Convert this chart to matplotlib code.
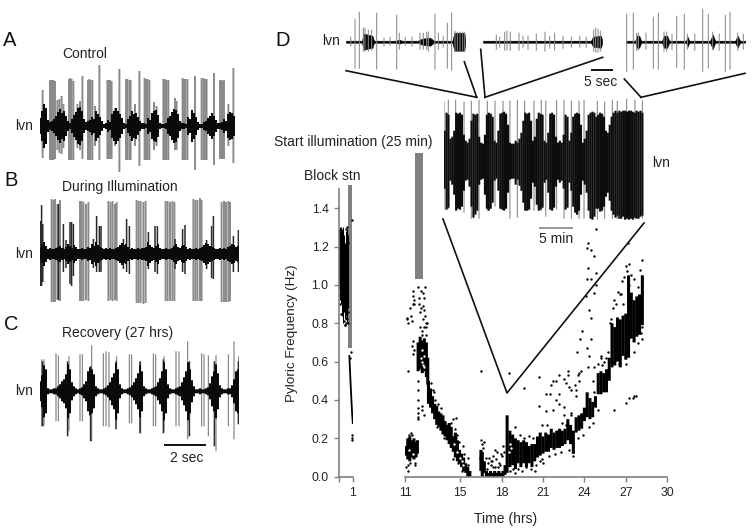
import matplotlib
matplotlib.use("Agg")
import matplotlib.pyplot as plt

plt.rcParams['font.family'] = ['Liberation Sans', 'DejaVu Sans']

W, H = 752, 532
GRAY = '#8a8a8a'
TXT = '#222222'

# panel A-C, time in sec, amplitude in arbitrary units
env_time = [0.0, 0.1, 0.2, 0.3, 0.4, 0.5, 0.6, 0.7, 0.8, 0.9, 1.0, 1.1, 1.2, 1.3, 1.4, 1.5, 1.6, 1.7, 1.8, 1.9,
            2.0, 2.1, 2.2, 2.3, 2.4, 2.5, 2.6, 2.7, 2.8, 2.9, 3.0, 3.1, 3.2, 3.3, 3.4, 3.5, 3.6, 3.7, 3.8, 3.9,
            4.0, 4.1, 4.2, 4.3, 4.4, 4.5, 4.6, 4.7, 4.8, 4.9, 5.0, 5.1, 5.2, 5.3, 5.4, 5.5, 5.6, 5.7, 5.8, 5.9,
            6.0, 6.1, 6.2, 6.3, 6.4, 6.5, 6.6, 6.7, 6.8, 6.9, 7.0, 7.1, 7.2, 7.3, 7.4, 7.5, 7.6, 7.7, 7.8, 7.9,
            8.0, 8.1, 8.2, 8.3, 8.4, 8.5, 8.6, 8.7, 8.8, 8.9, 9.0, 9.1, 9.2, 9.3, 9.4, 9.5, 9.6, 9.7, 9.8, 9.9]

a_env = [8, 15, 22, 18, 6, 4, 5, 7, 10, 14, 17, 13, 15, 10, 5, 3, 7, 11, 14, 18, 19, 15, 7, 4, 5, 6, 9, 7, 15, 12,
         9, 5, 2, 3, 6, 4, 12, 15, 18, 15, 12, 8, 3, 2, 7, 10, 15, 12, 13, 9, 5, 3, 3, 2, 8, 6, 13, 15, 16, 11,
         3, 2, 2, 3, 8, 10, 14, 17, 16, 12, 5, 3, 3, 2, 9, 7, 16, 13, 9, 4, 2, 2, 4, 5, 8, 10, 13, 10, 6, 3,
         3, 4, 7, 5, 12, 14, 13, 10]
a_t = [0.13, 0.5, 0.55, 0.6, 0.67, 0.75, 0.87, 0.97, 1.08, 1.17, 1.45, 1.52, 1.58, 1.67, 1.87, 2.0, 2.12,
       2.4, 2.47, 2.53, 2.62, 2.75, 2.97, 3.37, 3.43, 3.5, 3.58, 3.75, 3.97, 4.3, 4.37, 4.47, 4.53, 4.75,
       4.97, 5.23, 5.3, 5.38, 5.47, 5.7, 5.83, 6.17, 6.25, 6.33, 6.42, 6.75, 6.83, 7.13, 7.2, 7.27, 7.37,
       7.75, 8.08, 8.17, 8.25, 8.33, 8.7, 9.0, 9.07, 9.13, 9.2, 9.42, 9.67]
a_up = [36, 46, 46, 46, 46, 45, 26, 27, 30, 22, 47, 48, 47, 45, 22, 25, 50, 46, 47, 46, 46, 20, 61, 46, 46,
        46, 45, 18, 57, 47, 47, 46, 46, 22, 55, 48, 47, 47, 46, 24, 20, 47, 47, 46, 46, 28, 25, 48, 47, 47,
        47, 50, 48, 48, 47, 47, 53, 46, 46, 45, 46, 22, 58]
a_dn = [32, 34, 34, 34, 34, 33, 24, 27, 28, 22, 34, 34, 34, 34, 22, 24, 33, 34, 34, 34, 34, 20, 34, 33, 33,
        33, 33, 20, 46, 34, 34, 34, 34, 20, 40, 34, 34, 34, 34, 24, 20, 34, 34, 34, 34, 24, 24, 34, 34, 34,
        34, 44, 34, 34, 34, 34, 39, 33, 33, 33, 33, 20, 37]

b_env = [6, 9, 12, 8, 5, 6, 5, 5, 6, 7, 8, 6, 5, 7, 10, 8, 6, 9, 7, 5, 5, 6, 5, 5, 7, 6, 10, 8, 12, 9,
         7, 6, 5, 6, 5, 6, 5, 5, 6, 7, 9, 11, 9, 10, 7, 5, 6, 5, 5, 6, 5, 6, 6, 7, 12, 9, 7, 6, 8, 10,
         6, 5, 5, 6, 5, 5, 6, 8, 10, 7, 6, 8, 9, 7, 5, 6, 5, 5, 6, 5, 6, 7, 9, 11, 10, 8, 7, 6, 5, 5,
         6, 5, 6, 5, 7, 8, 10, 9, 7, 8]
b_t = [0.58, 0.67, 0.75, 0.87, 1.0, 2.0, 2.08, 2.17, 2.3, 2.42, 3.42, 3.53, 3.63, 3.75, 3.83, 4.83, 4.93,
       5.03, 5.17, 5.28, 6.28, 6.38, 6.5, 6.62, 6.72, 7.67, 7.77, 7.87, 8.0, 8.08, 9.08, 9.2, 9.3, 9.42, 9.5]
b_up = [55, 54, 55, 50, 54, 53, 53, 52, 50, 52, 53, 52, 53, 50, 52, 54, 53, 53, 52, 53, 53, 53, 52, 53, 52,
        55, 54, 54, 56, 54, 52, 53, 52, 53, 52]
b_dn = [48, 48, 48, 46, 47, 47, 47, 47, 46, 47, 47, 46, 47, 46, 47, 49, 49, 49, 50, 49, 47, 47, 47, 47, 47,
        47, 47, 47, 47, 47, 48, 48, 48, 48, 47]
b_dark_t = [0.02, 0.08, 0.14, 0.92, 1.17, 1.3, 1.5, 1.58, 1.67, 2.67, 2.83, 2.97, 3.05, 4.17, 4.33, 4.47,
            5.42, 5.75, 5.87, 6.75, 7.13, 7.25, 8.33, 8.58, 8.67, 9.67, 9.92]
b_dark_up = [33, 49, 30, 50, 30, 14, 32, 32, 30, 15, 38, 28, 28, 15, 35, 28, 22, 28, 28, 15, 25, 29, 14, 28,
             38, 18, 24]
b_dark_dn = [32, 32, 28, 46, 18, 14, 30, 32, 22, 14, 18, 18, 18, 15, 18, 20, 15, 18, 20, 15, 18, 20, 15, 24,
             25, 18, 18]

c_env = [10, 16, 26, 22, 3, 2, 2, 3, 3, 5, 7, 10, 12, 17, 27, 22, 9, 5, 3, 2, 3, 4, 7, 10, 20, 24, 22, 17, 5, 3,
         2, 2, 3, 4, 6, 9, 14, 18, 28, 22, 7, 3, 2, 2, 3, 4, 6, 9, 13, 18, 26, 20, 5, 3, 2, 2, 3, 4, 5, 9,
         13, 20, 29, 22, 7, 3, 2, 2, 3, 4, 5, 9, 14, 20, 29, 22, 11, 5, 2, 2, 3, 2, 2, 3, 4, 8, 15, 20, 27, 18,
         6, 3, 2, 2, 3, 3, 6, 12, 20, 22]
c_t = [0.08, 0.2, 0.8, 0.92, 1.45, 2.0, 2.12, 2.58, 3.17, 3.3, 3.45, 3.83, 4.47, 4.58, 5.03, 5.67, 5.78, 6.2,
       6.8, 6.95, 7.38, 8.08, 8.2, 8.42, 8.8, 9.42, 9.7, 9.93]
c_up = [32, 32, 38, 36, 35, 37, 37, 46, 38, 40, 39, 35, 37, 37, 30, 38, 37, 35, 40, 40, 50, 38, 37, 36, 36, 37,
        50, 35]
c_dn = [35, 35, 30, 30, 40, 30, 30, 50, 35, 35, 36, 30, 32, 32, 42, 35, 35, 40, 35, 35, 48, 35, 35, 45, 60, 35,
        48, 30]
c_dark_t = [0.13, 1.38, 2.53, 3.8, 5.0, 6.17, 7.47, 8.72, 9.92]
c_dark_up = [30, 30, 25, 30, 30, 32, 30, 30, 30]
c_dark_dn = [35, 45, 50, 38, 42, 42, 45, 55, 33]

# panel D short traces, time in sec
d1_t = [1.2, 2.25, 3.33, 4.33, 4.75, 5.58, 6.42, 7.67, 9.5, 11.0, 12.67, 13.33, 14.8, 16.5, 18.5, 19.33, 20.17,
        20.58, 22.25, 23.1, 24.3, 25.33, 26.4, 27.25, 27.83, 28.5, 29.17, 29.67]
d1_up = [5, 23, 30, 14, 14, 12, 12, 29, 4, 5, 27, 9, 5, 5, 9, 9, 10, 10, 28, 9, 6, 19, 29, 11, 10, 10, 10, 10]
d1_dn = [5, 27, 27, 10, 10, 10, 9, 28, 5, 4, 28, 8, 4, 5, 8, 8, 8, 10, 28, 8, 6, 27, 29, 10, 10, 10, 10, 10]
d1_env_t = [0, 4, 4.4, 5.5, 6.6, 7, 12.5, 13.3, 14, 18, 19, 21, 22, 26.6, 27.1, 29.6, 29.8]
d1_env = [1, 1, 8, 7, 6, 1, 1, 2, 1, 1, 3, 4, 1, 1, 9, 9, 1]

d2_t = [3.33, 4.17, 5.42, 6.0, 6.83, 9.0, 10.0, 11.25, 13.33, 15.5, 16.67, 17.9, 20.0, 22.1, 24.2, 25.8, 27.67,
        28.17, 28.75, 29.33]
d2_up = [7, 5, 10, 11, 10, 9, 6, 6, 8, 10, 6, 9, 6, 5, 6, 5, 12, 14, 13, 11]
d2_dn = [8, 6, 9, 9, 9, 9, 6, 8, 9, 10, 7, 9, 7, 6, 6, 6, 10, 11, 11, 10]
d2_env_t = [0, 27.0, 27.5, 29.5, 29.8]
d2_env = [1, 1, 5, 6, 1]

d3_t = [0.17, 1.83, 2.67, 3.1, 5.0, 6.83, 8.08, 9.5, 10.17, 11.5, 12.67, 14.58, 15.33, 17.2, 19.17, 20.58, 21.67,
        23.3, 24.83, 26.0, 27.92, 29.33]
d3_up = [28, 29, 9, 9, 9, 25, 29, 10, 10, 8, 26, 28, 8, 8, 33, 28, 10, 8, 27, 30, 9, 8]
d3_dn = [30, 28, 9, 9, 8, 27, 28, 10, 10, 8, 26, 28, 8, 9, 30, 27, 9, 9, 30, 28, 9, 8]
d3_env_t = [0, 2.3, 2.7, 3.3, 3.8, 9.0, 9.5, 10.3, 10.8, 15.0, 15.4, 15.8, 21, 21.7, 22.3, 27.3, 27.9, 28.5, 29.8]
d3_env = [1, 1, 6, 6, 1, 1, 6, 6, 1, 1, 5, 1, 1, 7, 1, 1, 6, 1, 1]

# panel D long trace, time in min, 2 px columns
big_t = [0.1, 0.4, 0.7, 1.0, 1.3, 1.6, 1.9, 2.2, 2.5, 2.8, 3.1, 3.4, 3.7, 4.0, 4.3, 4.6, 4.9, 5.2, 5.5, 5.8,
         6.1, 6.4, 6.7, 7.0, 7.3, 7.6, 7.9, 8.2, 8.5, 8.8, 9.1, 9.4, 9.7, 10.0, 10.3, 10.6, 10.9, 11.2, 11.5, 11.8,
         12.1, 12.4, 12.7, 13.0, 13.3, 13.6, 13.9, 14.2, 14.5, 14.8, 15.1, 15.4, 15.7, 16.0, 16.3, 16.6, 16.9,
         17.2, 17.5, 17.8, 18.1, 18.4, 18.7, 19.0, 19.3, 19.6, 19.9, 20.2, 20.5, 20.8, 21.1, 21.4, 21.7, 22.0,
         22.3, 22.6, 22.9, 23.2, 23.5, 23.8, 24.1, 24.4, 24.7, 25.0, 25.3, 25.6, 25.9, 26.2, 26.5, 26.8, 27.1,
         27.4, 27.7, 28.0, 28.3, 28.6, 28.9, 29.2, 29.5, 29.8, 30.1, 30.4, 30.7, 31.0]
big_up = [30, 48, 46, 22, 24, 30, 48, 47, 48, 46, 26, 20, 18, 22, 40, 47, 46, 47, 24, 18, 17, 26, 46, 48, 47, 44,
          20, 18, 30, 47, 48, 49, 47, 36, 18, 17, 17, 20, 18, 22, 28, 40, 48, 47, 48, 40, 20, 24, 42, 48, 47, 46,
          20, 18, 28, 47, 48, 46, 24, 18, 20, 18, 26, 46, 44, 20, 28, 44, 47, 48, 47, 36, 18, 22, 30, 46, 48, 49,
          48, 44, 46, 48, 47, 44, 30, 28, 36, 44, 48, 50, 48, 50, 49, 50, 50, 49, 50, 50, 49, 48, 50, 49, 50, 48]
big_dn = [28, 49, 47, 20, 24, 34, 50, 48, 49, 46, 30, 20, 19, 26, 46, 57, 54, 50, 24, 19, 18, 34, 48, 50, 48, 42,
          20, 18, 30, 48, 49, 50, 48, 32, 19, 18, 18, 24, 19, 25, 30, 42, 50, 50, 49, 38, 22, 26, 44, 50, 49, 47,
          22, 19, 32, 49, 50, 47, 26, 19, 22, 20, 28, 49, 47, 22, 30, 46, 52, 54, 50, 34, 20, 24, 32, 50, 58, 59,
          56, 48, 48, 51, 50, 46, 36, 32, 40, 50, 54, 57, 55, 58, 58, 56, 59, 58, 59, 58, 59, 57, 58, 58, 56, 55]
big_sp_t = [0.0, 0.68, 1.82, 3.13, 4.27, 5.47, 6.77, 7.97, 9.22, 10.3, 11.46, 12.6, 14.06, 15.2, 15.9, 17.6,
            18.75, 19.9, 21.1, 21.88, 23.96, 25.1, 26.3, 27.08, 28.54, 29.84, 31.0]
big_sp_up = [59, 61, 61, 59, 60, 61, 60, 60, 60, 60, 61, 60, 60, 61, 60, 61, 61, 60, 60, 61, 60, 59, 61, 60, 62,
             61, 60]
big_sp_dn = [49, 48, 49, 52, 58, 58, 50, 46, 48, 58, 57, 48, 50, 50, 56, 49, 58, 58, 58, 58, 59, 58, 58, 58, 58,
             58, 58]

# pyloric frequency, x in hrs, y in Hz
block_t = [0.02, 0.08, 0.14, 0.2, 0.26, 0.32, 0.38, 0.44, 0.5, 0.56, 0.62]
block_lo = [0.98, 0.92, 0.9, 0.84, 0.85, 0.8, 0.86, 0.82, 0.84, 0.8, 0.88]
block_hi = [1.29, 1.3, 1.3, 1.29, 1.3, 1.28, 1.26, 1.22, 1.28, 1.29, 1.26]
block_pts_t = [0.05, 0.08, 0.12, 0.5, 0.55, 0.6, 0.62, 0.45, 0.52, 0.65, 0.62, 0.85, 0.8, 0.93, 0.95, 0.96, 0.94,
               0.35, 0.42, 0.5, 0.6]
block_pts_v = [0.95, 0.9, 0.85, 1.29, 1.3, 1.26, 1.22, 0.79, 0.83, 0.86, 0.8, 0.65, 0.62, 1.34, 0.22, 0.2, 0.19,
               0.81, 0.79, 0.8, 0.82]
decay_t = [0.75, 0.8, 0.85, 0.9, 0.95, 1.0]
decay_v = [0.63, 0.55, 0.47, 0.4, 0.33, 0.28]

col_t = [11.05, 11.2, 11.35, 11.5, 11.65, 11.8, 11.9,
         11.95, 12.1, 12.25, 12.4, 12.55, 12.65,
         12.7, 12.85, 13.0, 13.15, 13.3, 13.45, 13.6, 13.75, 13.9, 14.05, 14.2, 14.35, 14.5, 14.65, 14.8, 14.95,
         15.1, 15.25, 15.4, 15.55, 15.7,
         16.5, 16.6, 16.75, 16.9, 17.05, 17.2, 17.35, 17.5, 17.65, 17.8, 17.95, 18.1, 18.25,
         18.4, 18.6, 18.8, 19.0, 19.2, 19.4, 19.6, 19.8, 20.0, 20.2, 20.4, 20.6, 20.8, 21.0, 21.2, 21.4, 21.6, 21.8,
         22.0, 22.2, 22.4, 22.6, 22.8, 23.0, 23.2, 23.4, 23.6, 23.8, 24.0, 24.2, 24.4, 24.6, 24.8, 25.0, 25.2, 25.4,
         25.6, 25.8, 26.0, 26.2, 26.4, 26.6, 26.8, 27.0, 27.2, 27.4, 27.6, 27.8, 28.0, 28.2]
col_lo = [0.11, 0.09, 0.08, 0.10, 0.09, 0.10, 0.12,
          0.55, 0.56, 0.54, 0.55, 0.52, 0.48,
          0.38, 0.36, 0.33, 0.30, 0.27, 0.26, 0.24, 0.22, 0.21, 0.19, 0.17, 0.15, 0.13, 0.10, 0.08, 0.07,
          0.05, 0.03, 0.02, 0.0, 0.0,
          0.03, 0.0, 0.02, 0.0, 0.0, 0.0, 0.0, 0.0, 0.0, 0.0, 0.0, 0.0, 0.01,
          0.02, 0.05, 0.06, 0.04, 0.07, 0.05, 0.07, 0.05, 0.07, 0.05, 0.08, 0.10, 0.11, 0.12, 0.13, 0.13, 0.15, 0.14,
          0.15, 0.15, 0.16, 0.17, 0.19, 0.17, 0.12, 0.23, 0.24, 0.25, 0.29, 0.31, 0.30, 0.31, 0.36, 0.43, 0.43, 0.44,
          0.44, 0.50, 0.57, 0.58, 0.60, 0.57, 0.63, 0.61, 0.62, 0.72, 0.70, 0.73, 0.74, 0.79]
col_hi = [0.16, 0.20, 0.21, 0.19, 0.20, 0.18, 0.19,
          0.70, 0.73, 0.71, 0.72, 0.70, 0.62,
          0.50, 0.46, 0.42, 0.38, 0.37, 0.34, 0.33, 0.32, 0.29, 0.27, 0.28, 0.26, 0.21, 0.23, 0.19, 0.14,
          0.12, 0.10, 0.07, 0.05, 0.03,
          0.14, 0.13, 0.08, 0.03, 0.02, 0.03, 0.02, 0.03, 0.02, 0.03, 0.02, 0.03, 0.06,
          0.32, 0.24, 0.22, 0.20, 0.19, 0.18, 0.19, 0.18, 0.16, 0.17, 0.17, 0.21, 0.23, 0.21, 0.23, 0.22, 0.25, 0.23,
          0.24, 0.25, 0.24, 0.25, 0.30, 0.27, 0.24, 0.31, 0.32, 0.33, 0.36, 0.44, 0.41, 0.39, 0.42, 0.54, 0.55, 0.54,
          0.56, 0.62, 0.80, 0.78, 0.83, 0.82, 0.84, 0.85, 1.05, 0.96, 0.92, 0.94, 0.95, 1.05]

pts_t = [11.1, 11.2, 11.25, 11.35, 11.3, 11.45, 11.5, 11.7, 11.75, 11.12, 11.2, 11.35, 11.4, 11.48, 11.6, 11.15,
         11.55, 11.6, 11.62, 11.65, 11.6, 11.65, 11.55, 11.5, 11.2, 11.95, 12.0, 12.05, 12.1, 12.15, 12.3, 12.35, 12.4,
         12.45, 12.5, 12.1, 12.2, 12.3, 12.25, 12.4, 12.5, 12.6, 12.15, 12.3, 12.45, 12.4, 12.55, 11.92, 11.93, 11.94,
         11.95, 11.93, 11.95, 11.97, 12.2, 12.25, 12.35, 12.85, 13.0, 13.2, 13.4, 13.6, 14.7, 14.65, 14.7, 14.75, 14.45,
         14.3, 14.1, 13.1, 13.35, 13.8, 14.9, 15.2, 15.3, 15.55, 15.6, 15.4, 14.5, 14.85, 15.1,
         16.5, 16.55, 16.65, 16.7, 16.85, 17.0, 17.1, 17.2, 17.3, 17.4, 17.5, 17.6, 17.7, 17.8, 17.95, 18.05, 18.15, 17.25,
         17.5, 16.95, 17.35, 17.75, 17.9, 18.1, 16.6, 16.45,
         24.83, 24.28, 24.18, 24.5, 24.66, 27.17, 24.28, 24.83, 24.5, 24.83, 24.22, 24.15, 24.7, 24.35, 24.47, 23.84,
         23.67, 24.47, 23.45, 24.18, 24.35, 23.74, 23.6, 16.5, 18.5, 19.6, 20.68, 20.68, 21.2, 21.52, 21.7, 21.57,
         22.17, 21.93, 22.78, 22.82, 22.54, 22.66, 22.9, 22.17, 21.93, 22.17, 22.49, 21.7, 21.2, 22.54, 23.38, 23.38,
         23.62, 23.5, 23.05, 23.3, 24.23, 24.7, 24.95, 25.2, 25.55, 24.6, 26.16, 27.0, 27.25, 27.5, 27.62, 27.73,
         27.0, 27.25, 28.14, 28.0, 26.76, 26.4, 26.04, 25.92, 27.6, 27.85, 26.64, 26.16, 27.4, 27.9, 27.6, 28.1, 27.0,
         26.5, 26.1, 25.7, 26.9, 27.2, 27.1, 26.8, 28.15, 28.2, 26.3, 26.6, 25.85, 25.4, 25.2, 25.3,
         18.6, 18.8, 19.0, 19.2, 19.5, 19.8, 20.1, 20.4, 20.5, 19.0, 19.3, 19.6, 20.0, 20.3, 20.9, 21.0, 21.4, 21.9,
         22.3, 22.4, 22.7, 23.0, 23.15, 23.2, 23.5, 23.9, 24.3, 24.6, 24.7, 25.0, 20.75, 20.9, 21.3, 23.0, 22.9, 24.0]
pts_v = [0.05, 0.03, 0.06, 0.07, 0.22, 0.23, 0.22, 0.07, 0.06, 0.83, 0.8, 0.88, 0.84, 0.81, 0.9, 0.82,
         0.97, 0.94, 0.92, 0.9, 0.71, 0.66, 0.64, 0.68, 0.55, 0.99, 0.93, 0.9, 0.86, 0.97, 0.96, 0.93, 0.87,
         0.84, 0.8, 0.78, 0.76, 0.82, 0.74, 0.78, 0.74, 0.8, 0.88, 0.89, 0.99, 0.72, 0.78, 0.5, 0.45, 0.4,
         0.36, 0.33, 0.3, 0.31, 0.37, 0.35, 0.32, 0.49, 0.45, 0.4, 0.38, 0.36, 0.305, 0.25, 0.2, 0.22, 0.3,
         0.28, 0.27, 0.44, 0.26, 0.2, 0.18, 0.16, 0.12, 0.1, 0.06, 0.05, 0.09, 0.07, 0.03,
         0.19, 0.17, 0.15, 0.18, 0.1, 0.07, 0.1, 0.06, 0.08, 0.11, 0.14, 0.09, 0.13, 0.07, 0.12, 0.11, 0.13, 0.08,
         0.05, 0.04, 0.05, 0.05, 0.06, 0.16, 0.08, 0.1,
         1.29, 1.22, 1.19, 1.18, 1.15, 1.22, 1.09, 1.06, 1.03, 1.0, 1.03, 0.94, 0.96, 0.87, 0.83, 0.76,
         0.72, 0.72, 0.65, 0.67, 0.63, 0.55, 0.54, 0.55, 0.54, 0.46, 0.52, 0.37, 0.43, 0.43, 0.5, 0.48,
         0.53, 0.5, 0.55, 0.53, 0.51, 0.49, 0.47, 0.43, 0.4, 0.38, 0.365, 0.35, 0.34, 0.32, 0.42, 0.45,
         0.5, 0.53, 0.45, 0.48, 0.57, 0.57, 0.59, 0.63, 0.62, 0.5, 0.35, 0.385, 0.41, 0.41, 0.42, 0.42,
         1.1, 1.11, 1.13, 1.08, 1.02, 0.965, 0.88, 0.82, 1.03, 0.99, 0.955, 0.92, 1.05, 0.695, 0.65, 0.75, 0.59,
         0.59, 0.6, 0.65, 1.04, 1.0, 1.07, 0.9, 0.72, 0.78, 0.9, 0.95, 0.8, 0.6, 0.62, 0.58,
         0.03, 0.04, 0.02, 0.04, 0.03, 0.05, 0.04, 0.03, 0.06, 0.26, 0.22, 0.2, 0.21, 0.2, 0.27, 0.07, 0.11, 0.12,
         0.13, 0.28, 0.27, 0.33, 0.11, 0.13, 0.2, 0.22, 0.26, 0.28, 0.44, 0.35, 0.08, 0.09, 0.27, 0.32, 0.14, 0.34]

# light specks inside the dense clouds
hole_t = [12.15, 12.2, 12.3, 12.35, 12.25, 12.4, 18.6, 18.7, 18.55, 14.8, 14.95, 15.1, 11.3, 11.6, 14.55, 15.2]
hole_v = [0.62, 0.6, 0.58, 0.63, 0.66, 0.57, 0.17, 0.15, 0.13, 0.13, 0.1, 0.08, 0.14, 0.12, 0.17, 0.06]

conn_top = [[(346, 70.7), (476.7, 97.3)], [(464.3, 61.7), (476.7, 97.3)], [(480.7, 49.3), (485, 97.3)],
            [(602.7, 57.3), (485, 97.3)], [(624.3, 79), (641, 97.3)], [(745, 73.3), (641, 97.3)]]
conn_low = [(443, 219), (507, 393), (644, 223)]


def px_axes(fig, x0, y_top, x1, y_bot, **kw):
    # axes placed from reference pixels, y measured from the top
    return fig.add_axes([x0 / W, 1 - y_bot / H, (x1 - x0) / W, (y_bot - y_top) / H], **kw)


def spikes(ax, t, up, dn, color, lw):
    lc = ax.vlines(t, [-v for v in dn], up, color=color, lw=lw)
    lc.set_snap(False)


def draw_trace(fig, x0, x1, yc, amp, tmax, t, up, dn, lw=1.4):
    ax = px_axes(fig, x0, yc - amp, x1, yc + amp)
    ax.axis('off')
    ax.patch.set_alpha(0)
    ax.set_xlim(0, tmax)
    ax.set_ylim(-amp, amp)
    spikes(ax, t, up, dn, GRAY, lw)
    return ax


def main():
    fig = plt.figure(figsize=(W / 100, H / 100), dpi=100, facecolor='white')

    # left column traces
    ax = draw_trace(fig, 40, 239, 126, 65, 9.95, a_t, a_up, a_dn)
    spikes(ax, env_time[:98], a_env, a_env, '#0a0a0a', 1.45)
    ax = draw_trace(fig, 40, 239, 254, 65, 9.95, b_t, b_up, b_dn)
    spikes(ax, b_dark_t, b_dark_up, b_dark_dn, '#2a2a2a', 1.1)
    spikes(ax, env_time, b_env, b_env, '#0a0a0a', 1.45)
    ax = draw_trace(fig, 40, 239, 391.3, 65, 9.95, c_t, c_up, c_dn, lw=0.9)
    spikes(ax, c_dark_t, c_dark_up, c_dark_dn, '#2a2a2a', 1.1)
    spikes(ax, env_time, c_env, c_env, '#0a0a0a', 1.45)

    # top right short traces
    for x0, x1, tmax, t, up, dn, et, ev in [
            (346, 465, 29.75, d1_t, d1_up, d1_dn, d1_env_t, d1_env),
            (483, 603, 30, d2_t, d2_up, d2_dn, d2_env_t, d2_env),
            (626, 745, 29.75, d3_t, d3_up, d3_dn, d3_env_t, d3_env)]:
        ax = draw_trace(fig, x0, x1, 41.7, 36, tmax, t, up, dn, lw=0.75)
        ax.fill_between(et, [-v for v in ev], ev, color='black', lw=0.4)

    # long trace
    ax = draw_trace(fig, 444, 644, 160.7, 65, 31.25, big_sp_t, big_sp_up, big_sp_dn, lw=0.8)
    spikes(ax, big_t, big_up, big_dn, '#0c0c0c', 1.55)

    # frequency plot, broken time axis
    ax_l = px_axes(fig, 339, 189, 352.8, 476.7)
    ax_r = px_axes(fig, 405, 189, 667.2, 476.7)
    for ax in (ax_l, ax_r):
        ax.patch.set_alpha(0)
        ax.set_ylim(0, 1.5)
        for s in ('top', 'right'):
            ax.spines[s].set_visible(False)
        ax.spines['bottom'].set_color('#808080')
        ax.spines['left'].set_color('#808080')
        ax.spines['bottom'].set_linewidth(1.2)
        ax.spines['left'].set_linewidth(1.2)
        ax.tick_params(color='#808080', labelcolor=TXT, labelsize=8.8, length=3.5, width=1, pad=4)

    ax_l.set_xlim(0, 1)
    ax_l.set_xticks([0, 1], ['', '1'])
    ax_l.set_yticks([0, 0.2, 0.4, 0.6, 0.8, 1.0, 1.2, 1.4])
    ax_l.set_yticklabels(['0.0', '0.2', '0.4', '0.6', '0.8', '1.0', '1.2', '1.4'])
    ax_l.set_ylabel('Pyloric Frequency (Hz)', fontsize=9.7, color=TXT, labelpad=10)

    ax_r.set_xlim(11, 30)
    ax_r.set_xticks([11, 15, 18, 21, 24, 27, 30])
    ax_r.spines['left'].set_visible(False)
    ax_r.set_yticks([])

    # stimulus bars
    ax_l.bar(0.8, 0.85, width=0.24, bottom=0.67, color='#808080', lw=0, clip_on=False, zorder=1)
    ax_r.bar(12.0, 0.66, width=0.6, bottom=1.03, color='#808080', lw=0, clip_on=False, zorder=1)

    ax_l.vlines(block_t, block_lo, block_hi, color='black', lw=0.75, zorder=2)
    ax_l.scatter(block_pts_t, block_pts_v, s=3, c='black', lw=0, zorder=2, clip_on=False)
    ax_l.plot(decay_t, decay_v, color='black', lw=1.3, zorder=2)

    cols = ax_r.vlines(col_t, col_lo, col_hi, color='black', lw=2.2, zorder=2)
    cols.set_snap(False)
    ax_r.scatter(pts_t, pts_v, s=3, c='black', lw=0, zorder=3, clip_on=False)
    ax_r.scatter(hole_t, hole_v, s=3, c='white', lw=0, zorder=3)

    # overlay in pixels for labels and connector lines
    ov = fig.add_axes([0, 0, 1, 1])
    ov.set_xlim(0, W)
    ov.set_ylim(H, 0)
    ov.axis('off')
    ov.patch.set_alpha(0)

    for seg in conn_top:
        ov.plot([p[0] for p in seg], [p[1] for p in seg], color='#111111', lw=1.2)
    ov.plot([p[0] for p in conn_low], [p[1] for p in conn_low], color='#111111', lw=1.2)

    ov.plot([165, 205], [445, 445], color='#111111', lw=1.4)
    ov.plot([592, 612], [70, 70], color='#111111', lw=1.4)
    ov.plot([540, 572], [228, 228], color='#999999', lw=1.4)

    for s, x, y in [('A', 3, 41), ('B', 4, 180), ('C', 4, 325), ('D', 275, 41)]:
        ov.text(x, y, s, fontsize=14.5, color='#111111', va='center', ha='left')
    for s, x, y in [('Control', 62, 54), ('During Illumination', 62, 187), ('Recovery (27 hrs)', 62, 333),
                    ('lvn', 15, 126), ('lvn', 15, 254), ('lvn', 15, 391), ('lvn', 322, 41), ('lvn', 652, 163),
                    ('Start illumination (25 min)', 274, 142), ('Block stn', 304, 176)]:
        ov.text(x, y, s, fontsize=10, color=TXT, va='center', ha='left')
    ov.text(187, 458, '2 sec', fontsize=10, color=TXT, va='center', ha='center')
    ov.text(601, 82, '5 sec', fontsize=10, color=TXT, va='center', ha='center')
    ov.text(556, 239, '5 min', fontsize=10, color=TXT, va='center', ha='center')
    ov.text(506, 519, 'Time (hrs)', fontsize=10, color=TXT, va='center', ha='center')

    fig.savefig('out.png', dpi=100)


if __name__ == "__main__":
    main()
